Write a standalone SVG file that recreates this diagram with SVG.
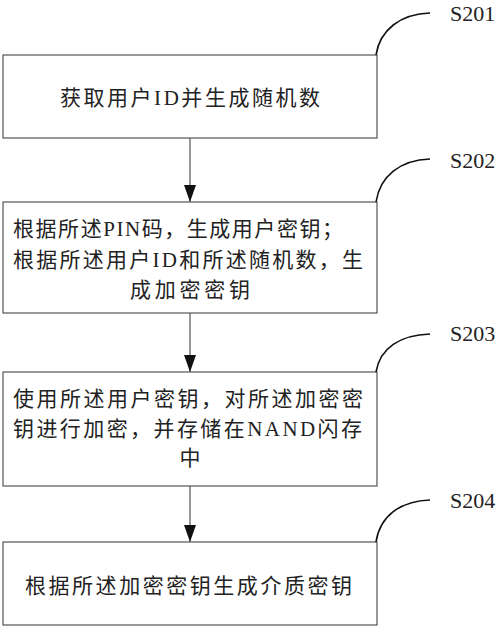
<svg xmlns="http://www.w3.org/2000/svg" width="500" height="629" viewBox="0 0 500 629">
<defs>
<style>
.box{fill:#fff;stroke:#555;stroke-width:1.2}
.t{font-family:"Liberation Serif","Noto Sans CJK SC",serif;font-size:21px;fill:#222}
.lbl{font-family:"Liberation Serif",serif;font-size:22px;fill:#222}
.cv{fill:none;stroke:#111;stroke-width:1.6}
.ln{stroke:#555;stroke-width:1.2;fill:none}
</style>
<marker id="ah" viewBox="0 0 17 12" refX="17" refY="6" markerWidth="17" markerHeight="12" markerUnits="userSpaceOnUse" orient="auto">
<path d="M0,0 L17,6 L0,12 Z" fill="#111"/>
</marker>
</defs>
<rect width="500" height="629" fill="#fff"/>
<g id="connectors">
<line class="ln" x1="190" y1="138" x2="190" y2="202" marker-end="url(#ah)"/>
<line class="ln" x1="190" y1="313" x2="190" y2="372" marker-end="url(#ah)"/>
<line class="ln" x1="190" y1="486" x2="190" y2="542" marker-end="url(#ah)"/>
</g>
<g id="s201">
<rect class="box" x="3" y="55" width="374" height="83"/>
<text class="t" x="60" y="105" textLength="260" lengthAdjust="spacing">获取用户ID并生成随机数</text>
<path class="cv" d="M376,55 C380,30 400,14 430,13"/>
<text class="lbl" x="450" y="21">S201</text>
</g>
<g id="s202">
<rect class="box" x="3" y="202" width="374" height="111"/>
<text class="t" x="13" y="236" textLength="330" lengthAdjust="spacing">根据所述PIN码，生成用户密钥；</text>
<text class="t" x="13" y="267" textLength="350" lengthAdjust="spacing">根据所述用户ID和所述随机数，生</text>
<text class="t" x="130" y="297" textLength="120" lengthAdjust="spacing">成加密密钥</text>
<path class="cv" d="M376,202 C380,176 400,160 430,159"/>
<text class="lbl" x="450" y="168">S202</text>
</g>
<g id="s203">
<rect class="box" x="3" y="372" width="374" height="114"/>
<text class="t" x="13" y="406" textLength="350" lengthAdjust="spacing">使用所述用户密钥，对所述加密密</text>
<text class="t" x="13" y="436" textLength="349" lengthAdjust="spacing">钥进行加密，并存储在NAND闪存</text>
<text class="t" x="190" y="465" text-anchor="middle">中</text>
<path class="cv" d="M376,372 C380,348 400,335 430,334"/>
<text class="lbl" x="450" y="341">S203</text>
</g>
<g id="s204">
<rect class="box" x="3" y="542" width="374" height="83"/>
<text class="t" x="25" y="593" textLength="327" lengthAdjust="spacing">根据所述加密密钥生成介质密钥</text>
<path class="cv" d="M376,542 C380,516 400,501 430,500"/>
<text class="lbl" x="450" y="508">S204</text>
</g>
</svg>
